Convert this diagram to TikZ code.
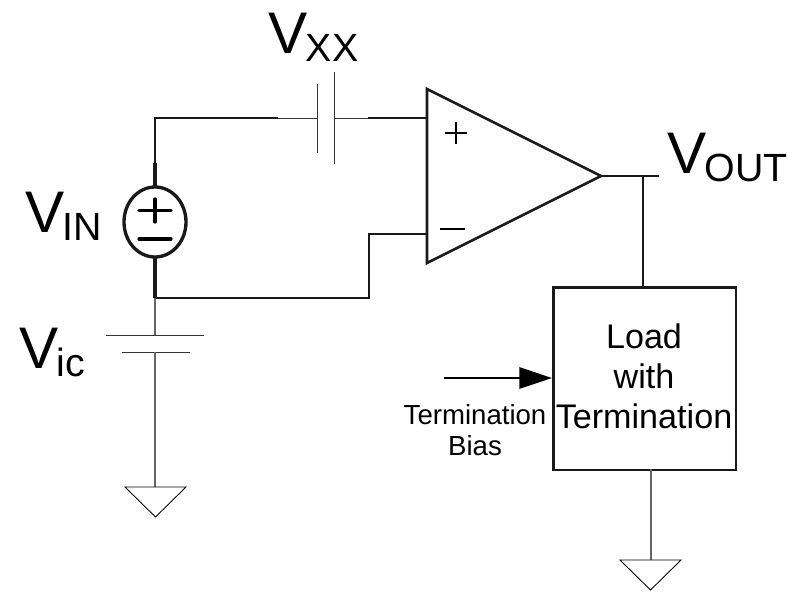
\documentclass[tikz,border=0pt]{standalone}
\usepackage{fontspec}
\setmainfont{Liberation Sans}
\usetikzlibrary{arrows.meta,shapes.geometric}
\newcommand{\VL}[1]{\fontsize{44}{50}\selectfont V\kern-1pt\raisebox{-0.14em}{\fontsize{29.5}{34}\selectfont #1}}
\tikzset{
  heavy/.style={line width=2.9pt,black!90,line cap=butt},
  tri/.style={line width=1.9pt,black!90,line join=miter},
  medium/.style={line width=1.8pt,black!90,line join=miter},
  fine/.style={line width=0.75pt,black!80},
  gndline/.style={line width=0.9pt,black!60},
  gndtri/.style={line width=0.65pt,black,line join=miter},
  lab/.style={inner sep=0pt,outer sep=0pt,anchor=base west},
  bigtxt/.style={inner sep=0pt,align=center,font=\fontsize{25.6}{30}\selectfont},
  smalltxt/.style={inner sep=0pt,align=center,font=\fontsize{20.7}{23.4}\selectfont}
}
\begin{document}
\begin{tikzpicture}[x=0.75pt,y=-0.75pt]
\useasboundingbox (0,0) rectangle (788,593);
% coordinates
\coordinate (srcTop) at (155,186);
\coordinate (srcBot) at (155,257);
\coordinate (cornerTL) at (155,118);
\coordinate (capLThick) at (278,118);
\coordinate (capL) at (317,118);
\coordinate (capR) at (334,118);
\coordinate (capRThick) at (368,118);
\coordinate (inP) at (427,118);
\coordinate (inN) at (427,234);
\coordinate (stepT) at (369,234);
\coordinate (stepB) at (369,298);
\coordinate (junc) at (155,298);
\coordinate (batL) at (155,335);
\coordinate (batS) at (155,352);
\coordinate (gnd1) at (155,487);
\coordinate (out) at (601,176);
\coordinate (outEnd) at (659,176);
\coordinate (outT) at (643,176);
\coordinate (loadT) at (643,286);
\coordinate (arrS) at (444,378);
\coordinate (arrE) at (552,378);
\coordinate (loadB) at (651,469);
\coordinate (gnd2) at (651,560);
% opamp
\draw[tri] (427,89) -- (601,176) -- (427,263) -- cycle;
\draw[line width=1.4pt] (445,133) -- (467,133) (456,122) -- (456,144);
\draw[line width=1.4pt] (440,229) -- (465,229);
% source
\node[draw,ellipse,inner sep=0pt,line width=2.5pt,black!90,minimum width=46.5pt,minimum height=52.5pt] (src) at (155,222) {};
\draw[line width=2.5pt,line cap=round] (139,210.5) -- (171,210.5) (155,199) -- (155,222);
\draw[line width=2.5pt,line cap=round] (139,239) -- (171,239);
% wires
\draw[heavy] (srcTop) -- (155,163);
\draw[medium] (155,163) -- (cornerTL) -- (capLThick);
\draw[fine] (capLThick) -- (capL);
\draw[fine] (capR) -- (capRThick);
\draw[medium] (capRThick) -- (inP);
\draw[fine] (317,84) -- (317,153);
\draw[fine] (334,72) -- (334,164);
\draw[heavy] (srcBot) -- (junc);
\draw[medium] (junc) -- (stepB) -- (stepT) -- (inN);
% battery
\draw[gndline] (junc) -- (batL);
\draw[fine] (106,335) -- (204,335);
\draw[fine] (122,352) -- (190,352);
\draw[gndline] (batS) -- (gnd1);
\draw[gndtri] (125,487) -- (186,487) -- (155.5,517) -- cycle;
% output
\draw[medium] (out) -- (outEnd);
\draw[medium] (outT) -- (loadT);
% load
\node[draw,line width=1.9pt,black!90,minimum width=137pt,minimum height=137pt,inner sep=0pt,anchor=north west] (load) at (552,286) {};
\node[bigtxt] (loadtxt) at (644,376) {Load\\with\\Termination};
\draw[gndline] (loadB) -- (gnd2);
\draw[gndtri] (620,560) -- (681,560) -- (650.5,590) -- cycle;
% arrow
\draw[line width=1.5pt,-{Triangle[length=24.5pt,width=16pt,black]}] (arrS) -- (arrE);
\node[smalltxt] (bias) at (475,430) {Termination\\Bias};
% voltage labels
\node[lab] (vxx) at (268,53) {\VL{XX}};
\node[lab] (vin) at (25,232) {\VL{IN}};
\node[lab] (vic) at (19,368) {\VL{ic}};
\node[lab] (vout) at (667,173) {\VL{OUT}};
\end{tikzpicture}
\end{document}
